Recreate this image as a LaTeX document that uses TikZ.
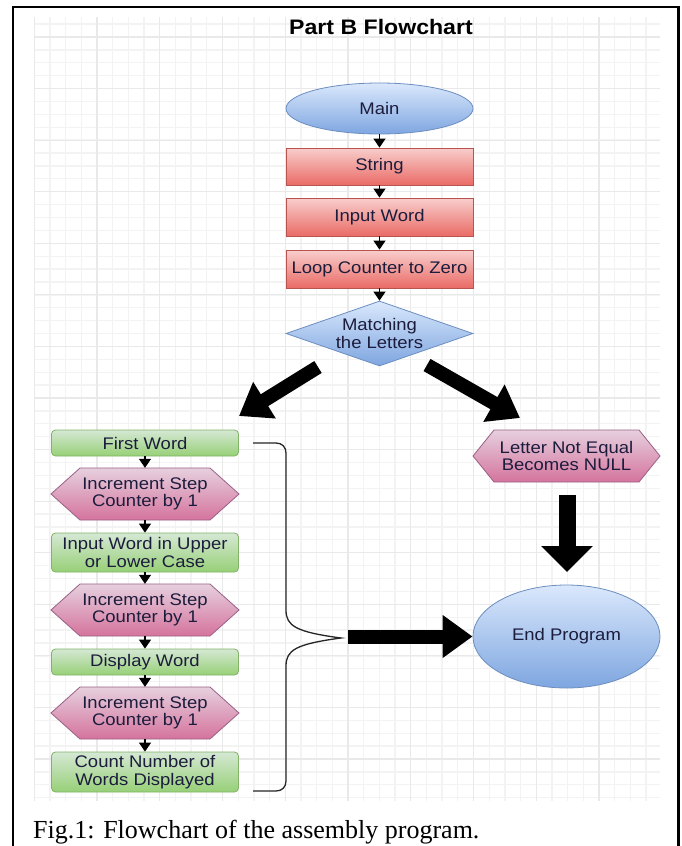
\documentclass[tikz,border=0pt]{standalone}
\usepackage{fontspec}
\setmainfont{Liberation Sans}[FakeStretch=1.1]
\newfontfamily\capfont{Liberation Serif}
\usetikzlibrary{shapes.geometric,arrows.meta}
\definecolor{blueT}{HTML}{DAE8FC}
\definecolor{blueD}{HTML}{7EA6E0}
\definecolor{blueB}{HTML}{6C8EBF}
\definecolor{redT}{HTML}{F8CECC}
\definecolor{redD}{HTML}{EA6B66}
\definecolor{redB}{HTML}{B85450}
\definecolor{greenT}{HTML}{D5E8D4}
\definecolor{greenD}{HTML}{97D077}
\definecolor{greenB}{HTML}{82B366}
\definecolor{pinkT}{HTML}{E6D0DE}
\definecolor{pinkD}{HTML}{D5739D}
\definecolor{pinkB}{HTML}{996185}
\definecolor{txt}{HTML}{1C1C3C}
\definecolor{gridmin}{HTML}{F3F3F3}
\definecolor{gridmaj}{HTML}{E9E9E9}
\newcommand\hexshape[4]{%
  \path[draw=pinkB, line width=0.8pt, top color=pinkT, bottom color=pinkD]
    (#1-#3,#2) -- (#1-#3+#4,#2-26) -- (#1+#3-#4,#2-26) -- (#1+#3,#2)
    -- (#1+#3-#4,#2+26) -- (#1-#3+#4,#2+26) -- cycle;}
\begin{document}
\begin{tikzpicture}[x=1pt,y=-1pt,
  lbl/.style={inner sep=0pt, align=center, text=txt, font=\fontsize{16.8}{17.5}\selectfont},
  box/.style={lbl, rectangle, minimum width=187pt},
  redbox/.style={box, minimum height=38pt, draw=redB, line width=0.8pt, top color=redT, bottom color=redD},
  greenbox/.style={box, rounded corners=4pt, draw=greenB, line width=0.8pt, top color=greenT, bottom color=greenD},
  blueell/.style={lbl, ellipse, draw=blueB, line width=0.8pt, top color=blueT, bottom color=blueD},
  hexlabel/.style={box, minimum height=52pt},
  flow/.style={-{Triangle[width=12pt,length=9pt]}, line width=1.2pt, black},
  bigarrow/.style={line width=14pt, black, -{Triangle[width=41pt,length=30pt]}},
  bigdown/.style={line width=17pt, black, -{Triangle[width=50pt,length=26pt]}},
  gridminor/.style={draw=gridmin, line width=1.3pt},
  gridmajor/.style={draw=gridmaj, line width=1.2pt}]
\useasboundingbox (0,0) rectangle (682,846);
\fill[white] (0,0) rectangle (682,846);
% grid
\begin{scope}
\clip (34,17) rectangle (660,801);
\foreach \i in {0,...,40} \draw[gridminor] ({34.25+15.6875*\i},17) -- ++(0,784);
\foreach \j in {-2,...,60} \draw[gridminor] (34,{37+12.893*\j}) -- ++(626,0);
\foreach \i in {0,...,10} \draw[gridmajor] ({34.25+62.75*\i},17) -- ++(0,784);
\foreach \j in {0,...,14} \draw[gridmajor] (34,{37+51.57*\j}) -- ++(626,0);
\end{scope}
% frame
\draw[line width=2.2pt, line cap=rect] (13,850) -- (13,7) -- (678.5,7) -- (678.5,850);
% title
\node[font=\bfseries\fontsize{21}{24}\selectfont, text=black] (title) at (381,27) {Part B Flowchart};
% centre column
\node[blueell, minimum width=187pt, minimum height=51pt] (main) at (379.5,108.5) {Main};
\node[redbox, minimum height=37pt] (string) at (379.5,166.5) {String};
\node[redbox] (input) at (379.5,217) {Input Word};
\node[redbox] (loop) at (379.5,269) {Loop Counter to Zero};
\node[lbl, diamond, aspect=2.877, minimum width=187pt, minimum height=65pt, draw=blueB, line width=0.8pt, top color=blueT, bottom color=blueD] (match) at (379.5,333.5) {Matching\\the Letters};
\draw[flow] (main) -- (string);
\draw[flow] (string) -- (input);
\draw[flow] (input) -- (loop);
\draw[flow] (loop) -- (match);
% left column
\node[greenbox, minimum height=26pt] (first) at (145,443) {First Word};
\hexshape{145}{494}{94}{29}
\node[hexlabel] (inc1) at (145,494) {Increment Step\\Counter by 1};
\node[greenbox, minimum height=39pt] (upper) at (145,552.5) {Input Word in Upper\\or Lower Case};
\hexshape{145}{610}{94}{29}
\node[hexlabel] (inc2) at (145,610) {Increment Step\\Counter by 1};
\node[greenbox, minimum height=26pt] (display) at (145,662) {Display Word};
\hexshape{145}{713}{94}{29}
\node[hexlabel] (inc3) at (145,713) {Increment Step\\Counter by 1};
\node[greenbox, minimum height=40pt] (count) at (145,772) {Count Number of\\Words Displayed};
\draw[flow] (first) -- (inc1);
\draw[flow] (inc1) -- (upper);
\draw[flow] (upper) -- (inc2);
\draw[flow] (inc2) -- (display);
\draw[flow] (display) -- (inc3);
\draw[flow] (inc3) -- (count);
% right column
\hexshape{566.5}{456}{93.5}{21}
\node[hexlabel] (null) at (566.5,456) {Letter Not Equal\\Becomes NULL};
\node[blueell, minimum width=187pt, minimum height=103pt] (end) at (566.5,636.5) {End Program};
% big arrows
\coordinate (ltail) at (318,367);
\coordinate (ltip) at (239,416);
\coordinate (rtail) at (427,365);
\coordinate (rtip) at (520,418);
\coordinate (btail) at (348,636.5);
\coordinate (dtail) at (567,495);
\coordinate (dtip) at (567,572);
\draw[bigarrow] (ltail) -- (ltip);
\draw[bigarrow] (rtail) -- (rtip);
\draw[bigarrow] (btail) -- (end.west);
\draw[bigdown] (dtail) -- (dtip);
% brace
\draw[line width=1.3pt, black!85] (253,443) -- (276,443) .. controls (282,443) and (286,447) .. (286,453)
  -- (286,610) .. controls (286,626) and (296,632) .. (341,638)
  .. controls (296,644) and (286,650) .. (286,666)
  -- (286,781) .. controls (286,787) and (282,791) .. (276,791) -- (253,791);
% caption
\node[anchor=base west, inner sep=0pt, font=\capfont\fontsize{26}{30}\selectfont, text=black] (cap) at (33,838.5) {Fig.1: Flowchart of the assembly program.};
\end{tikzpicture}
\end{document}
